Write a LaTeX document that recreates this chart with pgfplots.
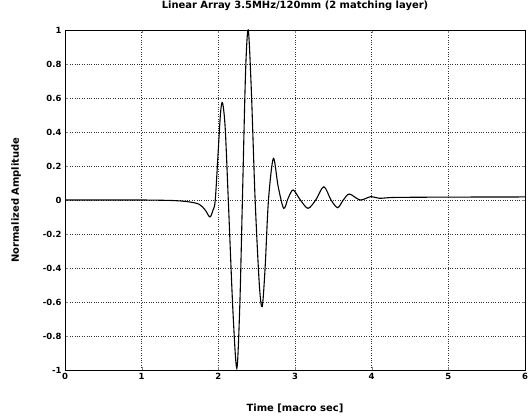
\documentclass[border=0pt]{standalone}
\usepackage{pgfplots}
\pgfplotsset{compat=1.18}
\usepackage{fontspec}
\setmainfont{DejaVu Sans}
\begin{document}
\begin{tikzpicture}
\begin{axis}[
  name=ax,
  scale only axis,
  width=460bp, height=340bp,
  xmin=0, xmax=6, ymin=-1, ymax=1,
  xtick={0,1,...,6},
  ytick={-1,-0.8,...,1},
  yticklabel style={/pgf/number format/fixed, /pgf/number format/precision=1},
  /pgf/number format/assume math mode=true,
  tick label style={font=\fontsize{8.5}{10}\selectfont\bfseries},
  tick align=inside,
  major tick length=3pt,
  grid=major,
  major grid style={black!80, dotted, line width=0.5pt},
  axis line style={black, line width=0.8pt},
  title={Linear Array 3.5MHz/120mm (2 matching layer)},
  title style={font=\fontsize{10}{12}\selectfont\bfseries, at={(axis description cs:0.5,1.053)}, anchor=center},
  xlabel={Time [macro sec]},
  xlabel style={font=\fontsize{10}{12}\selectfont\bfseries, at={(axis description cs:0.5,-0.112)}, anchor=center},
  ylabel={Normalized Amplitude},
  ylabel style={font=\fontsize{10}{12}\selectfont\bfseries, at={(axis description cs:-0.106,0.5)}, anchor=center},
]
\addplot[black, line width=1.1pt, smooth, tension=0.5] coordinates {
(0,0) (0.5,0) (1.0,0) (1.4,-0.003) (1.6,-0.01) (1.75,-0.025) (1.83,-0.06)
(1.89,-0.1) (1.93,-0.06) (1.96,0.0) (2.0,0.3) (2.03,0.52) (2.056,0.57)
(2.09,0.42) (2.13,0.0) (2.19,-0.65) (2.241,-0.99) (2.28,-0.62) (2.314,0.0)
(2.355,0.75) (2.39,1.0) (2.43,0.65) (2.48,0.0) (2.535,-0.5) (2.572,-0.627)
(2.61,-0.4) (2.654,0.0) (2.718,0.245) (2.78,0.08) (2.852,-0.049) (2.91,0.01)
(2.976,0.059) (3.07,0.0) (3.17,-0.049) (3.27,0.0) (3.376,0.078) (3.47,0.0)
(3.557,-0.045) (3.63,0.0) (3.71,0.035) (3.85,0.0) (3.99,0.02) (4.1,0.01)
(4.3,0.015) (5,0.017) (6,0.018)
};
\end{axis}
\pgfresetboundingbox
\path[use as bounding box] ([shift={(-65bp,-47bp)}]ax.south west) rectangle ([shift={(6bp,30bp)}]ax.north east);
\end{tikzpicture}
\end{document}
